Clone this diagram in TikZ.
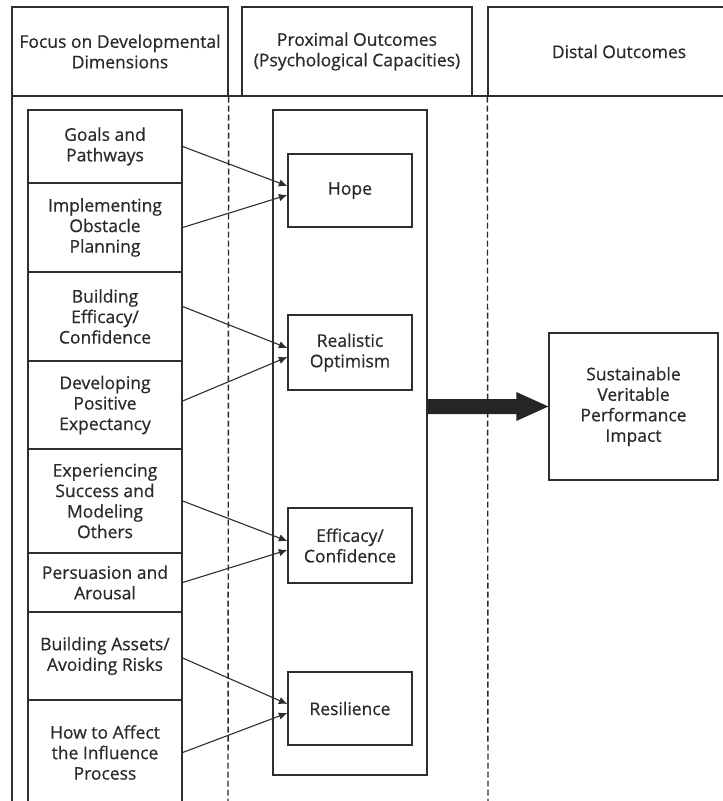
\documentclass[tikz,border=0pt]{standalone}
\usepackage{fontspec}
\setmainfont{Open Sans}
\newfontfamily\labelfont[FakeBold=0.6]{Open Sans}
\usetikzlibrary{arrows.meta,calc}
\definecolor{ink}{HTML}{2E2E2E}
\definecolor{type}{HTML}{2A2A2A}
\begin{document}
\begin{tikzpicture}[x=1pt,y=-1pt,
  every node/.style={font=\labelfont\fontsize{17.5}{20.5}\selectfont, text=type},
  box/.style={draw=ink, line width=1.3pt, inner sep=0pt, align=center},
  link/.style={draw=ink, line width=1.1pt, -{Latex[length=8.5pt,width=7.5pt]}},
  divider/.style={draw=ink!90!black, line width=1.4pt, dash pattern=on 6pt off 3pt}]
\useasboundingbox (0,0) rectangle (723,801);

% column headers
\node[box, minimum width=216pt, minimum height=89pt] (hdev) at (120,51.5)
  {Focus on Developmental\\Dimensions};
\node[box, minimum width=230pt, minimum height=89pt] (hprox) at (357,51.5)
  {Proximal Outcomes\\(Psychological Capacities)};
\node[box, minimum width=262pt, minimum height=89pt] (hdist) at (619,51.5)
  {Distal Outcomes};

% frame lines and column dividers
\draw[ink, line width=1.3pt] (12,96) -- (12,801);
\draw[ink, line width=1.3pt] (12,96) -- (723,96);
\draw[divider] (hdev.south east) -- (228,801);
\draw[divider] (hdist.south west) -- (488,801);

% developmental dimensions
\begin{scope}[every node/.append style={box, minimum width=154pt}]
\node[minimum height=73pt]  (goals)   at (105,146.5) {Goals and\\Pathways};
\node[minimum height=89pt]  (plan)    at (105,227.5) {Implementing\\Obstacle\\Planning};
\node[minimum height=89pt]  (build)   at (105,316.5) {Building\\Efficacy/\\Confidence};
\node[minimum height=88pt]  (expect)  at (105,405)   {Developing\\Positive\\Expectancy};
\node[minimum height=104pt] (success) at (105,501)   {Experiencing\\Success and\\Modeling\\Others};
\node[minimum height=59pt]  (persu)   at (105,582.5) {Persuasion and\\Arousal};
\node[minimum height=88pt]  (assets)  at (105,656)   {Building Assets/\\Avoiding Risks};
\node[minimum height=105pt] (influ)   at (105,752.5) {How to Affect\\the Influence\\Process};
\end{scope}

% psychological capacities
\node[box, minimum width=154pt, minimum height=665pt] (caps) at (350,442.5) {};
\begin{scope}[every node/.append style={box, minimum width=124pt}]
\node[minimum height=73pt] (hope)   at (350,190.5) {Hope};
\node[minimum height=75pt] (optim)  at (350,352.5) {Realistic\\Optimism};
\node[minimum height=75pt] (effic)  at (350,545.5) {Efficacy/\\Confidence};
\node[minimum height=73pt] (resil)  at (350,708.5) {Resilience};
\end{scope}

% distal outcome
\node[box, minimum width=169pt, minimum height=147pt] (impact) at (633.5,406.5)
  {Sustainable\\Veritable\\Performance\\Impact};

% links from dimensions to capacities
\draw[link] (goals.east)   -- ([yshift=4.5pt]hope.west);
\draw[link] (plan.east)    -- ([yshift=-4.5pt]hope.west);
\draw[link] ([yshift=10pt]build.east)  -- ([yshift=4.5pt]optim.west);
\draw[link] ([yshift=4pt]expect.east)  -- ([yshift=-4.5pt]optim.west);
\draw[link] (success.east) -- ([yshift=4.5pt]effic.west);
\draw[link] (persu.east)   -- ([yshift=-4.5pt]effic.west);
\draw[link] ([yshift=-2pt]assets.east) -- ([yshift=4.5pt]resil.west);
\draw[link] (influ.east)   -- ([yshift=-4.5pt]resil.west);

% block arrow to the distal outcome
\coordinate (bstart) at (caps.east |- impact.west);
\fill[ink!80!black] ($(bstart)+(0,-7.5)$) -- ($(impact.west)+(-32,-7.5)$)
  -- ($(impact.west)+(-32,-14.5)$) -- (impact.west)
  -- ($(impact.west)+(-32,14.5)$) -- ($(impact.west)+(-32,7.5)$)
  -- ($(bstart)+(0,7.5)$) -- cycle;
\end{tikzpicture}
\end{document}
